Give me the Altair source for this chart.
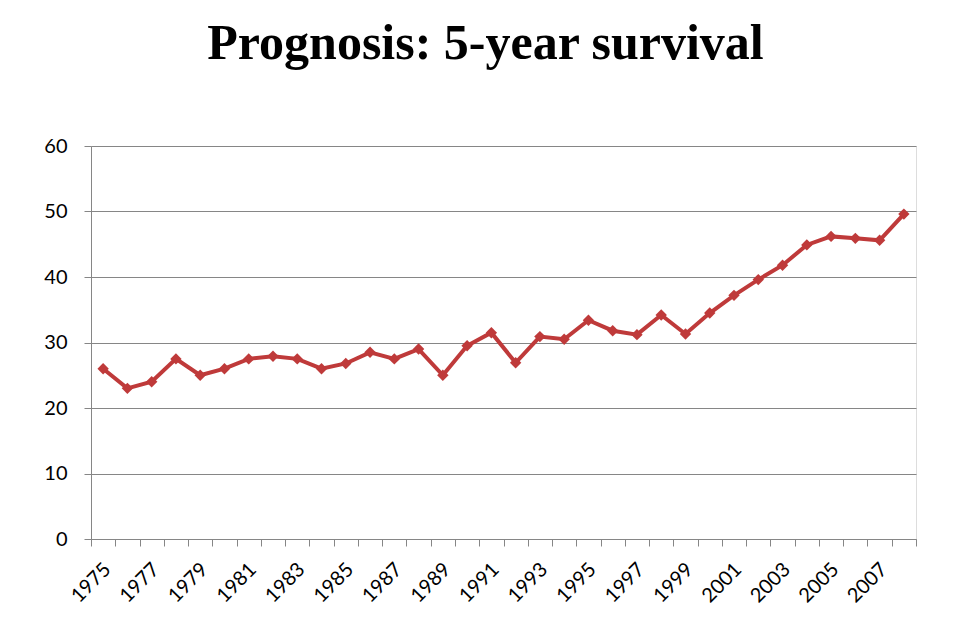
import altair as alt
import pandas as pd

years = list(range(1975, 2009))
survival = [26.0, 23.0, 24.0, 27.5, 25.0, 26.0, 27.5, 27.9, 27.5, 26.0,
            26.8, 28.5, 27.5, 29.0, 25.0, 29.5, 31.5, 26.9, 30.9, 30.5,
            33.4, 31.8, 31.2, 34.2, 31.3, 34.5, 37.2, 39.6, 41.8, 44.9,
            46.2, 45.9, 45.6, 49.6]

df = pd.DataFrame({"year": [str(y) for y in years], "value": survival})

LINE = "#BF3A3A"
GRID = "#868686"

x = alt.X("year:O", title=None,
          scale=alt.Scale(paddingInner=0, paddingOuter=0),
          axis=alt.Axis(tickBand="extent", labelAngle=-45, labelAlign="right",
                        labelBaseline="top", labelOffset=-3,
                        labelExpr="toNumber(datum.value) % 2 == 1 ? datum.label : ''",
                        labelFont="Lato", labelFontSize=20, labelColor="#000000",
                        labelPadding=13, tickSize=7, tickColor=GRID, domainColor=GRID,
                        grid=False, labelOverlap=False, labelBound=False))
y = alt.Y("value:Q", title=None,
          scale=alt.Scale(domain=[0, 60], nice=False),
          axis=alt.Axis(values=[0, 10, 20, 30, 40, 50, 60], labelFont="Lato",
                        labelFontSize=20, labelColor="#000000", labelPadding=17,
                        tickSize=7, tickColor=GRID, domainColor=GRID,
                        gridColor=GRID, gridWidth=1.2, gridOpacity=1))

line = alt.Chart(df).mark_line(color=LINE, strokeWidth=4).encode(x=x, y=y)
pts = alt.Chart(df).mark_point(shape="diamond", filled=True, size=130,
                               color=LINE, opacity=1).encode(x=x, y=y)

chart = (line + pts).properties(
    width=825, height=393,
    title=alt.TitleParams("Prognosis: 5-year survival", font="Liberation Serif",
                          fontSize=50, fontWeight="bold", color="#000000",
                          anchor="middle", baseline="alphabetic", offset=27, dx=-18),
    autosize=alt.AutoSizeParams(type="none"),
    padding={"left": 83, "top": 138, "right": 40, "bottom": 90},
).configure_view(stroke=None).configure(background="white")

chart.save("out.html", embed_options={"renderer": "svg", "actions": False})
